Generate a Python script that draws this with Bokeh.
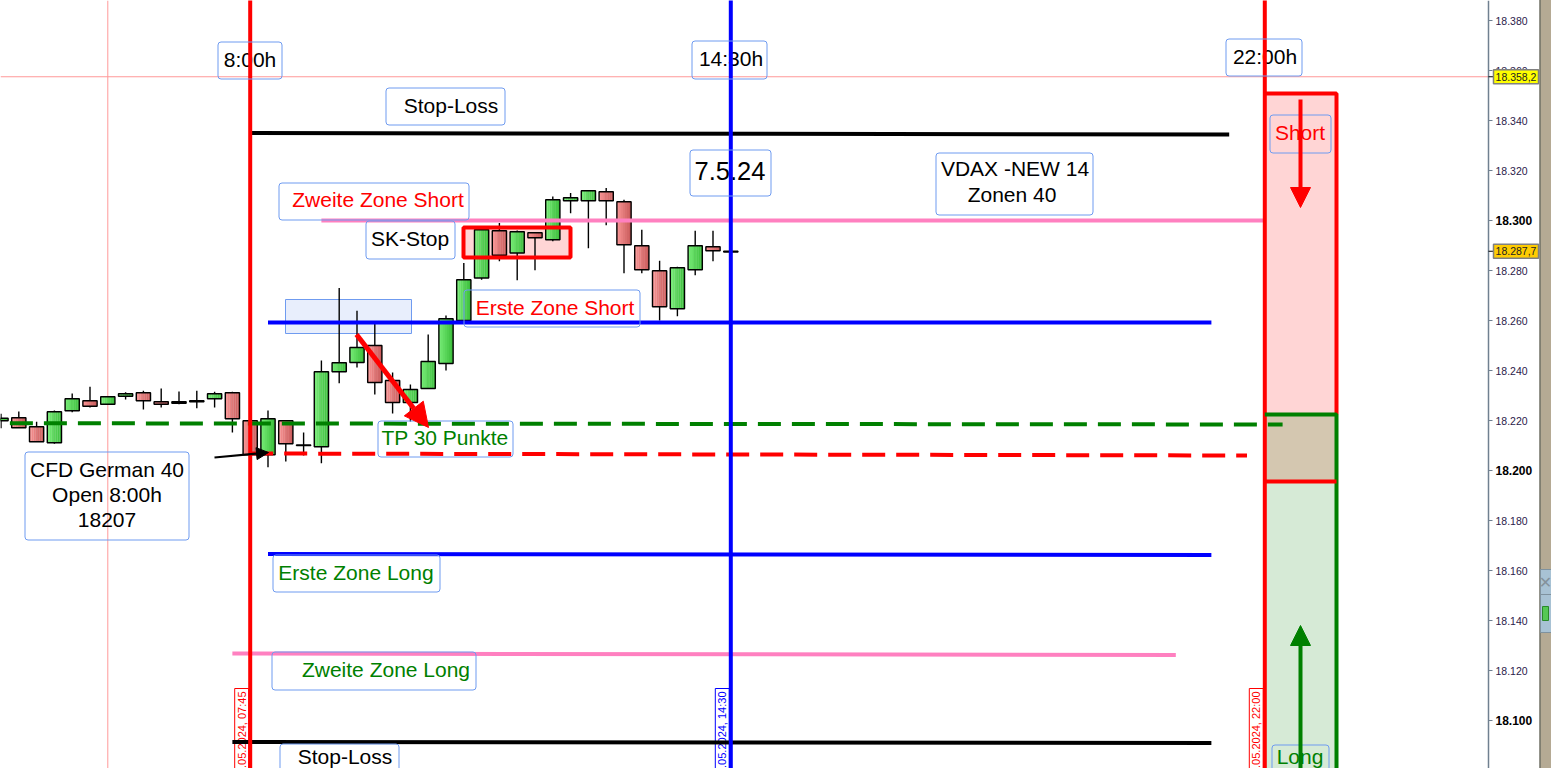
from bokeh.plotting import figure
from math import pi
from bokeh.models import Range1d, LinearAxis, FixedTicker, BoxAnnotation, Arrow, NormalHead
from bokeh.core.properties import value
from bokeh.embed import file_html
from bokeh.resources import INLINE

# ---------- data (15-minute candles, price in points) ----------
bar_index = list(range(42))
opens = [18219.9,18221.1,18217.5,18211.1,18223.9,18227.9,18226.5,18229.7,18231.1,18227.5,18226.9,18227.5,18228.7,18231.1,
         18219.9,18206.3,18219.9,18210.0,18209.5,18239.5,18243.2,18250.0,18236.0,18227.2,18232.8,18242.8,18260.0,18277.0,
         18295.9,18287.0,18295.1,18292.3,18307.9,18307.9,18311.5,18307.5,18289.9,18279.9,18264.7,18280.3,18289.5,18287.7]
closes = [18220.9,18217.1,18211.5,18223.5,18228.7,18225.7,18229.5,18230.7,18227.9,18226.5,18227.5,18227.9,18230.7,18220.7,
          18206.3,18220.7,18210.7,18210.2,18239.5,18243.1,18249.2,18235.2,18227.2,18232.4,18243.6,18260.7,18276.3,18296.3,
          18286.1,18295.5,18293.1,18308.3,18309.1,18311.9,18307.9,18290.3,18280.3,18265.5,18281.1,18289.9,18287.9,18287.4]
highs = [18222.7,18223.6,18219.5,18224.0,18230.8,18233.5,18229.5,18231.3,18231.9,18232.8,18231.6,18231.9,18231.5,18231.5,
         18219.9,18224.0,18219.9,18215.2,18244.0,18273.0,18263.9,18258.7,18239.2,18234.4,18254.4,18262.0,18283.0,18296.3,
         18299.0,18296.0,18295.1,18309.6,18311.0,18311.9,18313.0,18308.3,18296.3,18283.9,18281.5,18295.9,18295.9,18287.7]
lows = [18216.9,18217.1,18211.5,18210.7,18223.3,18225.2,18226.5,18228.4,18224.4,18225.2,18226.5,18224.9,18225.2,18215.2,
        18206.3,18201.3,18203.6,18206.0,18202.9,18234.9,18241.2,18230.4,18222.8,18219.6,18232.8,18240.0,18260.0,18276.3,
        18283.7,18276.1,18280.1,18291.7,18302.9,18288.9,18298.1,18278.9,18278.9,18260.0,18261.7,18278.1,18283.7,18287.4]

level_names = ["stop_short", "zone1_short", "zone2_short", "zone1_long", "zone2_long", "stop_long"]
level_start = [18335.0, 18259.2, 18300.0, 18166.6, 18126.8, 18091.4]
level_end = [18334.4, 18259.2, 18300.0, 18166.2, 18126.2, 18091.0]
level_bar0 = [14.1, 15, 18, 15, 13, 13]
level_bar1 = [69, 68, 71, 68, 66, 68]
level_colors = ["black", "#0000ff", "#ff80c0", "#0000ff", "#ff80c0", "black"]

session_bars = [14, 41, 71]
session_colors = ["#ff0000", "#0000ff", "#ff0000"]
session_stamps = [".05.2024, 07:45", ".05.2024, 14:30", ".05.2024, 22:00"]

zone_tops = [18350.8, 18222.4, 18195.6]
zone_bottoms = [18222.4, 18195.6, 18080.0]
zone_fills = ["#ffd5d5", "#d4c7b0", "#d6ead6"]

price_ticks = [18120, 18140, 18160, 18180, 18220, 18240, 18260, 18280, 18320, 18340, 18360, 18380]
bold_ticks = [18100, 18200, 18300]
crosshair_bar = 6
crosshair_price = 18357.5
last_price = 18287.7

# ---------- pixel helpers for annotation placement ----------
W, H = 1551, 768
def bx(px): return (px - 0.5) / 17.8
def pr(py): return 18200 + (470 - py) / 2.5

p = figure(width=W, height=H, output_backend="svg", toolbar_location=None,
           x_range=Range1d(bx(0), bx(W)), y_range=Range1d(pr(H), pr(0)),
           x_axis_location=None, y_axis_location=None, min_border=0,
           outline_line_color=None)
p.grid.visible = False

# price axes (regular and bold)
def add_axis(ticks, size, style, color, line):
    ax = LinearAxis(fixed_location=bx(1488), ticker=FixedTicker(ticks=ticks),
                    major_label_overrides={t: f"{t/1000:.3f}" for t in ticks},
                    major_label_text_font="Liberation Sans", major_label_text_font_size=size,
                    major_label_text_font_style=style, major_label_text_color=color,
                    major_tick_in=0, major_tick_out=4, major_tick_line_color="#708090",
                    minor_tick_line_color=None, axis_line_color=line, axis_line_width=1.5,
                    major_label_standoff=3)
    p.add_layout(ax, "right")
add_axis(price_ticks, "10.5px", "normal", "#2a1a4a", "#708090")
add_axis(bold_ticks, "12px", "bold", "#000000", None)

# right window strip
p.quad(left=bx(1539.5), right=bx(1552), top=pr(-2), bottom=pr(770), fill_color="#b5aa94", line_color=None, level="overlay")
p.segment(bx(1539.5), pr(-2), bx(1539.5), pr(770), line_color="#6f6f64", line_width=1.5, level="overlay")
p.quad(left=bx(1540), right=bx(1552), top=pr(569), bottom=pr(632), fill_color="#a8c2d4", line_color="#7f929f", level="overlay")
p.segment(bx(1540), pr(594), bx(1552), pr(594), line_color="#7f929f", level="overlay")
p.text(bx(1545), pr(582), text=["✕"], text_font=value("DejaVu Sans"), text_font_size="16px",
       text_align="center", text_baseline="middle", text_color="#84929c", level="overlay")
p.quad(left=bx(1542), right=bx(1548), top=pr(606), bottom=pr(620), fill_color="#55c855", line_color="#2a8a2a", level="overlay")

# background zones
p.quad(left=[session_bars[2]]*3, right=bx(1336), top=zone_tops, bottom=zone_bottoms, fill_color=zone_fills, line_color=None)
p.quad(left=bx(285), right=bx(411), top=pr(299), bottom=pr(333), fill_color="#e8eefc", line_color="#6f9bf0", line_width=1)
p.quad(left=bx(463), right=bx(570), top=pr(227), bottom=pr(257), fill_color="#ffd5d5", line_color=None)

# crosshair
p.segment(crosshair_bar, pr(0), crosshair_bar, pr(H), line_color="#ff9999", line_width=1)
p.segment(bx(0), crosshair_price, bx(1488), crosshair_price, line_color="#ff9999", line_width=1)

# candles: wicks, shaded bodies, outlines
up = [c >= o for o, c in zip(opens, closes)]
tops = [max(o, c) for o, c in zip(opens, closes)]
bottoms = [min(o, c) for o, c in zip(opens, closes)]
p.segment(bar_index, lows, bar_index, highs, line_color="black", line_width=1.4)
BODY = 0.8
STRIPS = 7
def mix(a, b, t):
    return "#" + "".join(f"{round(a[n] + (b[n] - a[n]) * t):02x}" for n in range(3))
for k in range(STRIPS):
    t = k / (STRIPS - 1)
    green = mix((0x74, 0xea, 0x74), (0x3e, 0xc0, 0x3e), t)
    red = mix((0xf6, 0x92, 0x92), (0xcb, 0x5e, 0x5e), t)
    off = (k + 0.5) / STRIPS * BODY - BODY / 2
    p.vbar(x=[b + off for b in bar_index], width=BODY / STRIPS + 0.01, top=tops, bottom=bottoms,
           fill_color=[green if u else red for u in up], line_color=None)
p.vbar(x=bar_index, width=BODY, top=tops, bottom=bottoms, fill_color=None, line_color="black", line_width=1.4)

# text boxes
BOX = "#6f9bf0"
def tbox(x0, y0, x1, y1):
    p.add_layout(BoxAnnotation(left=bx(x0 - 0.5), right=bx(x1 - 0.5), top=pr(y0 - 0.5), bottom=pr(y1 - 0.5), fill_alpha=0,
                               line_color=BOX, line_width=1, line_alpha=1, border_radius=3))
def txt(cx, cy, s, color="black", size="21px"):
    p.text(bx(cx - 0.5), pr(cy - 1), text=[s], text_color=color, text_font=value("Liberation Sans"), text_font_size=size,
           text_align="center", text_baseline="middle")

boxes = [
    (218, 42, 282, 79, [(250, 60, "8:00h", "black")]),
    (692, 41, 767, 79, [(731, 59, "14:30h", "black")]),
    (1226, 39, 1302, 76, [(1265, 57, "22:00h", "black")]),
    (386, 88, 505, 125, [(451, 106, "Stop-Loss", "black")]),
    (279, 183, 469, 220, [(378, 200, "Zweite Zone Short", "#ff0000")]),
    (366, 221, 455, 259, [(410, 239, "SK-Stop", "black")]),
    (464, 290, 640, 327, [(555, 308, "Erste Zone Short", "#ff0000")]),
    (378, 421, 513, 457, [(445, 438, "TP 30 Punkte", "#008000")]),
    (25, 452, 189, 540, [(107, 470, "CFD German 40", "black"), (107, 495, "Open 8:00h", "black"), (107, 520, "18207", "black")]),
    (273, 555, 440, 592, [(356, 573, "Erste Zone Long", "#008000")]),
    (272, 652, 476, 690, [(386, 670, "Zweite Zone Long", "#008000")]),
    (280, 744, 399, 790, [(345, 757, "Stop-Loss", "black")]),
    (936, 153, 1093, 215, [(1015, 169, "VDAX -NEW 14", "black"), (1012, 195, "Zonen 40", "black")]),
    (1270, 115, 1331, 153, [(1300, 133, "Short", "#ff0000")]),
    (1272, 745, 1329, 790, [(1300, 757, "Long", "#008000")]),
]
for x0, y0, x1, y1, lines in boxes:
    tbox(x0, y0, x1, y1)
    for cx, cy, s, col in lines:
        txt(cx, cy, s, col)
tbox(690, 150, 771, 196)
txt(730, 171, "7.5.24", "black", "25.5px")

# session time stamps
for b, col, s in zip(session_bars, session_colors, session_stamps):
    x0, x1 = bx(0.5 + 17.8 * b - 15.5), bx(0.5 + 17.8 * b - 1.5)
    p.quad(left=x0, right=x1, top=pr(688), bottom=pr(772), fill_color="white", line_color=col, line_width=1)
    p.text((x0 + x1) / 2, pr(691), text=[s], angle=pi / 2, text_color=col, text_font=value("Liberation Sans"),
           text_font_size="11px", text_align="right", text_baseline="middle")

# levels
for y0, y1, b0, b1, col in zip(level_start, level_end, level_bar0, level_bar1, level_colors):
    p.line([b0, b1], [y0, y1], line_color=col, line_width=4)
p.line([0.5, 72], [18218.9, 18218.4], line_color="#008000", line_width=4, line_dash="23 11")
p.line([14, 70], [18206.8, 18206.0], line_color="#ff0000", line_width=4, line_dash="23 11")

# red SK-Stop frame
p.quad(left=bx(463), right=bx(570), top=pr(227), bottom=pr(257), fill_color=None, line_color="#ff0000", line_width=4)

# session lines and zone frame
for b, col in zip(session_bars, session_colors):
    p.segment(b, pr(-2), b, pr(770), line_color=col, line_width=4)
p.line([session_bars[2], bx(1336), bx(1336)], [zone_tops[0], zone_tops[0], zone_tops[1]], line_color="#ff0000", line_width=4)
p.line([session_bars[2], bx(1336), bx(1336)], [zone_tops[1], zone_tops[1], pr(770)], line_color="#008000", line_width=4)
p.segment(session_bars[2], zone_tops[2], bx(1336), zone_tops[2], line_color="#ff0000", line_width=4)

# arrows
def arrow(x0, y0, x1, y1, col, w, size):
    p.add_layout(Arrow(end=NormalHead(size=size, fill_color=col, line_color=col, line_width=1),
                       x_start=bx(x0), y_start=pr(y0), x_end=bx(x1), y_end=pr(y1), line_color=col, line_width=w))
arrow(1300, 99, 1300, 207, "#ff0000", 4, 20)
arrow(1300, 780, 1300, 625, "#008000", 4, 20)
arrow(356, 334, 428, 427, "#ff0000", 5, 24)
arrow(214, 457, 268, 452, "black", 2.2, 12)

# price tags
for price, tag, fill in [(crosshair_price, "18.358,2", "#ffff00"), (last_price, "18.287,7", "#ffcc00")]:
    p.segment(bx(1488), price, bx(1494), price, line_color="black", line_width=1, level="overlay")
    p.rect(bx(1515.5), price, width=bx(1538) - bx(1493), height=5.6, fill_color=fill, line_color="#808080", line_width=1.5, level="overlay")
    p.text(bx(1515.5), price, text=[tag], text_font=value("Liberation Sans"), text_font_size="10.5px",
           text_align="center", text_baseline="middle", text_color="#222222", level="overlay")

open("out.html", "w").write(file_html(p, INLINE))
